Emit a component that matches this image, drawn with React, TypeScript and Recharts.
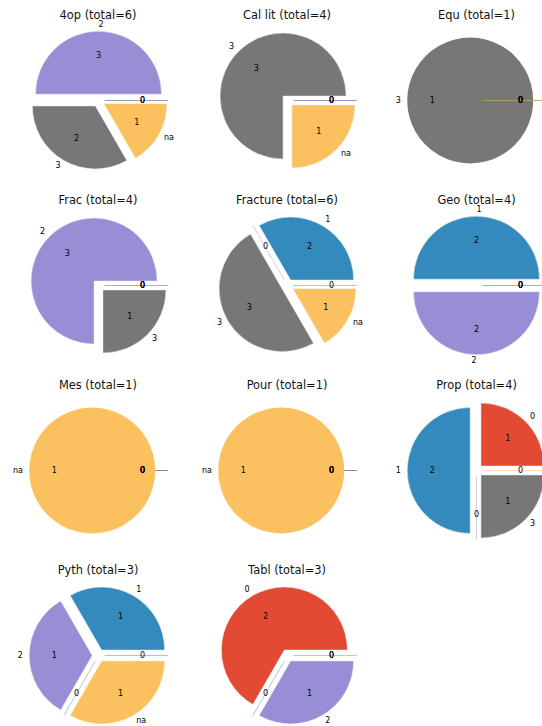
import { PieChart, Pie, Sector } from 'recharts'

// categories in the order matplotlib walked them, colours from the ggplot cycle
const CATEGORIES = ['0', '1', '2', '3', 'na']
const COLORS = ['#E24A33', '#348ABD', '#988ED5', '#777777', '#FBC15E']

const TITLES = ['4op', 'Cal lit', 'Equ', 'Frac', 'Fracture', 'Geo', 'Mes', 'Pour', 'Prop', 'Pyth', 'Tabl']

const counts4op = [0, 0, 3, 2, 1]
const countsCalLit = [0, 0, 0, 3, 1]
const countsEqu = [0, 0, 0, 1, 0]
const countsFrac = [0, 0, 3, 1, 0]
const countsFracture = [0, 2, 0, 3, 1]
const countsGeo = [0, 2, 2, 0, 0]
const countsMes = [0, 0, 0, 0, 1]
const countsPour = [0, 0, 0, 0, 1]
const countsProp = [1, 2, 0, 1, 0]
const countsPyth = [0, 1, 1, 0, 1]
const countsTabl = [2, 0, 1, 0, 0]

const COUNTS = [
    counts4op, countsCalLit, countsEqu, countsFrac, countsFracture, countsGeo,
    countsMes, countsPour, countsProp, countsPyth, countsTabl,
]

const R = 63
const EXPLODE = 0.1
const COL_X = [98, 287, 476.5]
const ROW_Y = [100.7, 285.7, 470.7, 655.7]
const BOX_W = 189
const BOX_H = 185
const RAD = Math.PI / 180
const FONT = '"DejaVu Sans", sans-serif'

function offsets(p: any) {
    const mid = (p.startAngle + p.endAngle) / 2
    const c = Math.cos(mid * RAD)
    const s = Math.sin(mid * RAD)
    return { c, s, ex: p.cx + c * p.outerRadius * EXPLODE, ey: p.cy - s * p.outerRadius * EXPLODE }
}

// first pass: exploded wedges (zero wedges end up as hairlines)
function renderSlice(p: any) {
    const { c, s, ex, ey } = offsets(p)
    const color = COLORS[p.index]
    if (p.startAngle === p.endAngle) {
        return (
            <line
                x1={ex}
                y1={ey}
                x2={ex + c * p.outerRadius}
                y2={ey - s * p.outerRadius}
                stroke={color}
                strokeOpacity={0.45}
                strokeWidth={1}
            />
        )
    }
    const full = Math.abs(p.endAngle - p.startAngle) >= 359.9
    return (
        <Sector
            cx={ex}
            cy={ey}
            innerRadius={0}
            outerRadius={p.outerRadius}
            startAngle={p.startAngle}
            endAngle={p.endAngle}
            fill={color}
            stroke={full ? 'none' : '#eeeeee'}
            strokeWidth={0.5}
        />
    )
}

// second pass: category name outside, count inside
function renderText(p: any) {
    const { c, s, ex, ey } = offsets(p)
    const r = p.outerRadius
    return (
        <g fontFamily={FONT} fontSize={8} fill="#000">
            {p.value > 0 && (
                <text
                    x={ex + c * r * 1.1}
                    y={ey - s * r * 1.1 - 0.5}
                    textAnchor={c > 0 ? 'start' : 'end'}
                    dominantBaseline="central"
                >
                    {CATEGORIES[p.index]}
                </text>
            )}
            <text
                x={ex + c * r * 0.6}
                y={ey - s * r * 0.6 - 0.5}
                textAnchor="middle"
                dominantBaseline="central"
            >
                {p.value}
            </text>
        </g>
    )
}

function SmallPie({ i }: { i: number }) {
    const counts = COUNTS[i]
    const rows = CATEGORIES.map((name, k) => ({ name, value: counts[k] }))
    const total = counts.reduce((a, b) => a + b, 0)
    const cx = COL_X[i % 3]
    const cy = ROW_Y[Math.floor(i / 3)]
    return (
        <>
            <div
                style={{
                    position: 'absolute',
                    left: cx - BOX_W / 2,
                    top: cy - 92.6,
                    width: BOX_W,
                    textAlign: 'center',
                    fontFamily: FONT,
                    fontSize: 11.4,
                    lineHeight: '14px',
                    color: '#111',
                    whiteSpace: 'nowrap',
                }}
            >
                {TITLES[i]} (total={total})
            </div>
            <div style={{ position: 'absolute', left: cx - BOX_W / 2, top: cy - BOX_H / 2 }}>
                <PieChart width={BOX_W} height={BOX_H} margin={{ top: 0, right: 0, bottom: 0, left: 0 }}>
                    <Pie
                        data={rows}
                        dataKey="value"
                        cx={BOX_W / 2}
                        cy={BOX_H / 2}
                        outerRadius={R}
                        startAngle={0}
                        endAngle={360}
                        fill="none"
                        stroke="none"
                        labelLine={false}
                        label={renderSlice}
                        isAnimationActive={false}
                    />
                    <Pie
                        data={rows}
                        dataKey="value"
                        cx={BOX_W / 2}
                        cy={BOX_H / 2}
                        outerRadius={R}
                        startAngle={0}
                        endAngle={360}
                        fill="none"
                        stroke="none"
                        labelLine={false}
                        label={renderText}
                        isAnimationActive={false}
                    />
                </PieChart>
            </div>
        </>
    )
}

export default function App() {
    return (
        <div
            style={{
                position: 'absolute',
                left: 0,
                top: 0,
                width: 542,
                height: 726,
                overflow: 'hidden',
                background: '#fff',
            }}
        >
            {TITLES.map((t, i) => (
                <SmallPie key={t} i={i} />
            ))}
        </div>
    )
}
